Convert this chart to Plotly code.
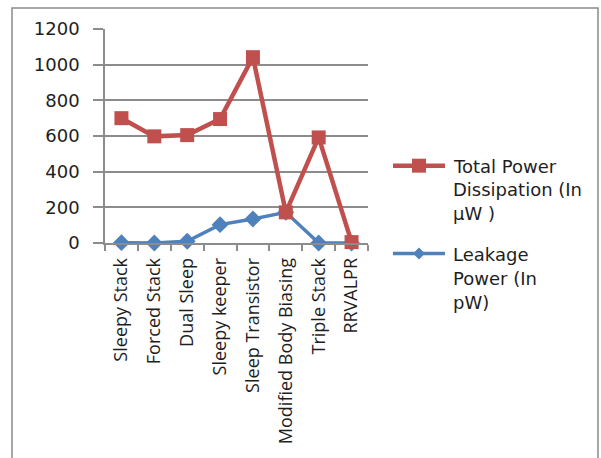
import plotly.graph_objects as go

# Leakage-reduction techniques compared on two power measures
techniques = ["Sleepy Stack", "Forced Stack", "Dual Sleep", "Sleepy keeper",
              "Sleep Transistor", "Modified Body Biasing", "Triple Stack", "RRVALPR"]
total_power_uw = [700, 598, 605, 695, 1042, 172, 592, 5]
leakage_power_pw = [2, 0, 10, 103, 135, 172, 0, 0]

y_ticks = [0, 200, 400, 600, 800, 1000, 1200]

RED = "#C0504D"
BLUE = "#4F81BD"
GRID = "#8C8C8C"
TEXT = "#1e1e1e"

W, H = 601, 458
ML, MR, MT, MB = 105, 233, 29, 214.5
PW = W - ML - MR
PH = H - MT - MB


def px(x):
    return (x - ML) / PW


def py(y):
    return (H - MB - y) / PH


fig = go.Figure()
fig.add_trace(go.Scatter(
    x=techniques, y=leakage_power_pw, mode="lines+markers",
    name="Leakage Power (In pW)",
    line=dict(color=BLUE, width=3.5),
    marker=dict(symbol="diamond", size=13, color=BLUE),
    cliponaxis=False,
))
fig.add_trace(go.Scatter(
    x=techniques, y=total_power_uw, mode="lines+markers",
    name="Total Power Dissipation (In µW )",
    line=dict(color=RED, width=4.5),
    marker=dict(symbol="square", size=14, color=RED),
    cliponaxis=False,
))

shapes = []
# outer frame
shapes.append(dict(type="rect", xref="paper", yref="paper",
                   x0=px(12), x1=px(598), y0=py(470), y1=py(8),
                   line=dict(color="#8a8a8a", width=1.5), layer="below"))

# legend keys
legend_rows = [(166, RED, "square", 4.5, 14), (254, BLUE, "diamond", 3.5, 12)]
for yy, col, sym, lw, sz in legend_rows:
    shapes.append(dict(type="line", xref="paper", yref="paper",
                       x0=px(393), x1=px(445), y0=py(yy), y1=py(yy),
                       line=dict(color=col, width=lw)))
    h = sz / 2
    if sym == "square":
        shapes.append(dict(type="rect", xref="paper", yref="paper",
                           x0=px(419 - h), x1=px(419 + h), y0=py(yy + h), y1=py(yy - h),
                           fillcolor=col, line=dict(width=0)))
    else:
        path = "M {} {} L {} {} L {} {} L {} {} Z".format(
            px(419 - h), py(yy), px(419), py(yy - h), px(419 + h), py(yy), px(419), py(yy + h))
        shapes.append(dict(type="path", xref="paper", yref="paper", path=path,
                           fillcolor=col, line=dict(width=0)))

annotations = []
legend_lines = [(167, "Total Power"), (190, "Dissipation (In"), (214, "µW )"),
                (255, "Leakage"), (279, "Power (In"), (303, "pW)")]
for yy, txt in legend_lines:
    annotations.append(dict(xref="paper", yref="paper", x=px(451), y=py(yy),
                            xanchor="left", yanchor="middle", text=txt, showarrow=False,
                            font=dict(family="DejaVu Sans", size=18, color=TEXT)))

fig.update_layout(
    width=W, height=H,
    margin=dict(l=ML, r=MR, t=MT, b=MB, pad=0),
    paper_bgcolor="white", plot_bgcolor="white",
    showlegend=False,
    shapes=shapes,
    annotations=annotations,
)
fig.update_xaxes(
    type="category", categoryorder="array", categoryarray=techniques,
    range=[-0.5, len(techniques) - 0.5],
    showline=True, linecolor=GRID, linewidth=1.5,
    ticks="outside", tickson="boundaries", ticklen=6, tickcolor=GRID, tickwidth=1.5,
    tickangle=-90, showgrid=False, ticklabelstandoff=6,
    tickfont=dict(family="Open Sans", size=18, color=TEXT),
)
fig.update_yaxes(
    range=[0, 1200], tickvals=y_ticks, ticktext=[str(v) for v in y_ticks],
    showline=True, linecolor=GRID, linewidth=1.5,
    ticks="outside", ticklen=10, tickcolor=GRID, tickwidth=1.5,
    showgrid=True, gridcolor=GRID, gridwidth=1.5, zeroline=False,
    ticklabelstandoff=10,
    tickfont=dict(family="DejaVu Sans", size=18, color=TEXT),
)

fig.write_html("out.html")
